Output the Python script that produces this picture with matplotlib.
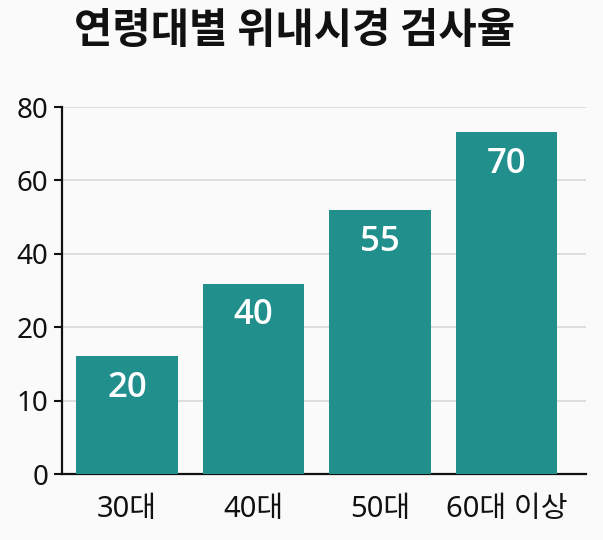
import numpy as np
import matplotlib
matplotlib.use('Agg')
import matplotlib.pyplot as plt

plt.rcParams['font.family'] = ['Noto Sans', 'Noto Sans CJK KR', 'DejaVu Sans']

# data
groups = ['30대', '40대', '50대', '60대 이상']
rates = [20, 40, 55, 70]                  # printed on the bars
bar_tops = [16.1, 31.9, 52.0, 73.2]       # where the bars end on the drawn axis
tick_vals = [0, 10, 20, 40, 60, 80]
title = '연령대별 위내시경 검사율'

bar_color = '#21908d'
bg = '#fafafa'

# the y axis has evenly spaced ticks that are not evenly spaced in value
tick_pos = np.arange(len(tick_vals))

def fwd(v):
    return np.interp(v, tick_vals, tick_pos)

def inv(p):
    return np.interp(p, tick_pos, tick_vals)

fig = plt.figure(figsize=(6.03, 5.40), dpi=100, facecolor=bg)
ax = fig.add_axes([0.1028, 0.1222, 0.8698, 0.6796], facecolor=bg)
ax.set_yscale('function', functions=(fwd, inv))

x = np.arange(len(groups))
ax.bar(x, bar_tops, width=0.8, color=bar_color, zorder=3)

for xi, h, r in zip(x, bar_tops, rates):
    ax.annotate(str(r), xy=(xi, h), xytext=(0, -23), textcoords='offset points',
                ha='center', va='center', color='white', fontsize=25,
                fontweight='semibold', family=['Open Sans', 'DejaVu Sans'], zorder=4)

ax.set_ylim(0, 80)
ax.set_xlim(-0.514, 3.632)
ax.set_yticks(tick_vals)
ax.set_yticklabels([str(t) for t in tick_vals])
ax.set_xticks(x)
ax.set_xticklabels(groups)

ax.grid(axis='y', color='#dcdcdc', linewidth=1.3, zorder=0)
ax.tick_params(axis='y', length=6, width=1.5, labelsize=20, pad=4, colors='#111111')
ax.tick_params(axis='x', length=0, labelsize=21, pad=15, colors='#111111')

for s in ['top', 'right']:
    ax.spines[s].set_visible(False)
for s in ['left', 'bottom']:
    ax.spines[s].set_linewidth(1.6)
    ax.spines[s].set_color('#111111')

fig.text(0.488, 0.943, title, ha='center', va='center', fontsize=30,
         fontweight='bold', color='#111111', family=['Noto Sans CJK KR', 'DejaVu Sans'])

plt.savefig('out.png', dpi=100, facecolor=bg)
